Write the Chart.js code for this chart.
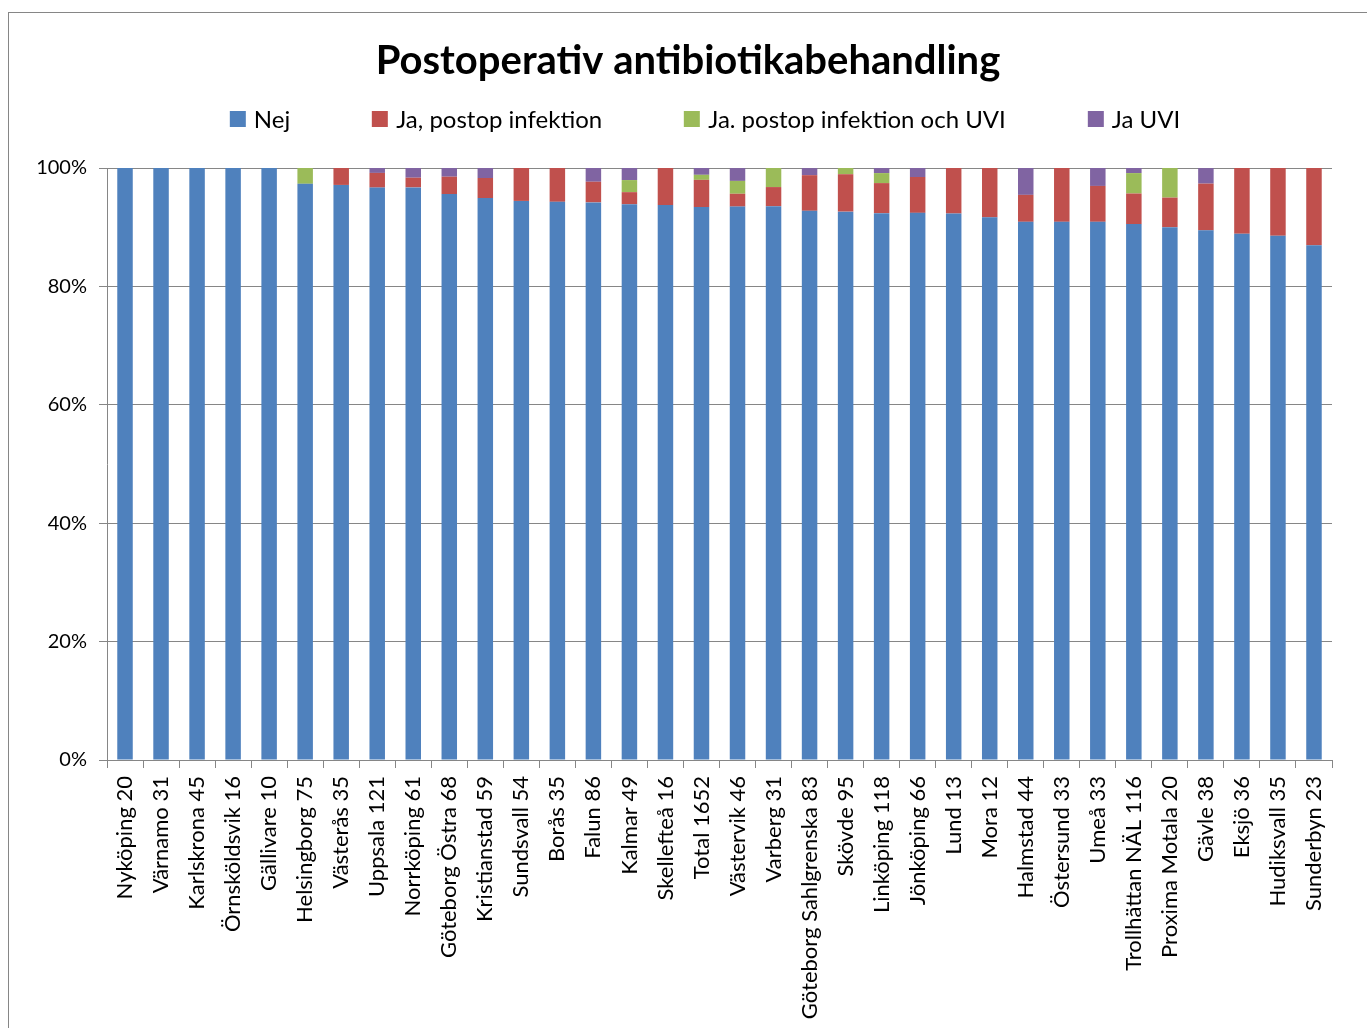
<!DOCTYPE html>
<html lang="sv">
<head>
<meta charset="utf-8">
<title>Postoperativ antibiotikabehandling</title>
<script src="https://cdn.jsdelivr.net/npm/chart.js@4/dist/chart.umd.min.js"></script>
<style>
  html, body { margin: 0; padding: 0; background: #fff; overflow: hidden; }
  #wrap { position: relative; width: 1367px; height: 1028px; }
  #frame { position: absolute; left: 8px; top: 12px; width: 1400px; height: 1100px;
           border: 1px solid #868686; box-sizing: border-box; }
  #chart { position: absolute; left: 0; top: 0; }
  #legend { position: absolute; top: 104px; left: 705px; transform: translateX(-50%);
            white-space: nowrap; font-family: Lato, "Open Sans", sans-serif; font-size: 24px;
            color: #000; line-height: 28px; }
  #legend .item { display: inline-flex; align-items: center; margin-right: 82px; }
  #legend .item:last-child { margin-right: 0; }
  #legend .box { width: 16px; height: 16px; margin-right: 8px; display: inline-block; }
</style>
</head>
<body>
<div id="wrap">
  <div id="frame"></div>
  <canvas id="chart" width="1367" height="1028"></canvas>
  <div id="legend"></div>
</div>
<script>
// Hospitals (with number of operations) and the share of each outcome, in percent
const categories = [
  "Nyköping 20", "Värnamo 31", "Karlskrona 45", "Örnsköldsvik 16", "Gällivare 10",
  "Helsingborg 75", "Västerås 35", "Uppsala 121", "Norrköping 61", "Göteborg Östra 68",
  "Kristianstad 59", "Sundsvall 54", "Borås 35", "Falun 86", "Kalmar 49",
  "Skellefteå 16", "Total 1652", "Västervik 46", "Varberg 31", "Göteborg Sahlgrenska 83",
  "Skövde 95", "Linköping 118", "Jönköping 66", "Lund 13", "Mora 12",
  "Halmstad 44", "Östersund 33", "Umeå 33", "Trollhättan NÄL 116", "Proxima Motala 20",
  "Gävle 38", "Eksjö 36", "Hudiksvall 35", "Sunderbyn 23"
];

const nej = [
  100, 100, 100, 100, 100,
  97.33, 97.14, 96.69, 96.72, 95.59,
  94.92, 94.44, 94.29, 94.19, 93.88,
  93.75, 93.4, 93.48, 93.55, 92.77,
  92.63, 92.37, 92.42, 92.31, 91.67,
  90.91, 90.91, 90.91, 90.52, 90,
  89.47, 88.89, 88.57, 86.96
];

const jaPostopInfektion = [
  0, 0, 0, 0, 0,
  0, 2.86, 2.48, 1.64, 2.94,
  3.39, 5.56, 5.71, 3.49, 2.04,
  6.25, 4.6, 2.17, 3.23, 6.02,
  6.32, 5.08, 6.06, 7.69, 8.33,
  4.55, 9.09, 6.06, 5.17, 5,
  7.89, 11.11, 11.43, 13.04
];

const jaInfektionOchUvi = [
  0, 0, 0, 0, 0,
  2.67, 0, 0, 0, 0,
  0, 0, 0, 0, 2.04,
  0, 0.85, 2.17, 3.23, 0,
  1.05, 1.69, 0, 0, 0,
  0, 0, 0, 3.45, 5,
  0, 0, 0, 0
];

const jaUvi = [
  0, 0, 0, 0, 0,
  0, 0, 0.83, 1.64, 1.47,
  1.69, 0, 0, 2.33, 2.04,
  0, 1.15, 2.17, 0, 1.2,
  0, 0.85, 1.52, 0, 0,
  4.55, 0, 3.03, 0.86, 0,
  2.63, 0, 0, 0
];

const yTicks = [0, 20, 40, 60, 80, 100];

const seriesNames = ["Nej", "Ja, postop infektion", "Ja. postop infektion och UVI", "Ja UVI"];
const seriesColors = ["#4F81BD", "#C0504D", "#9BBB59", "#8064A2"];
const seriesValues = [nej, jaPostopInfektion, jaInfektionOchUvi, jaUvi];

const FONT = "Lato, 'Open Sans', sans-serif";
const GRID = "#868686";

const datasets = seriesNames.map((name, i) => ({
  label: name,
  data: seriesValues[i],
  backgroundColor: seriesColors[i],
  borderWidth: 0,
  barPercentage: 0.43,
  categoryPercentage: 1.0
}));

// Let the y-axis labels use the space to the left of the layout padding
const widenYLabelArea = {
  id: "widenYLabelArea",
  afterLayout(chart) { chart.scales.y.left = 0; }
};

const chart = new Chart(document.getElementById("chart"), {
  type: "bar",
  data: { labels: categories, datasets },
  plugins: [widenYLabelArea],
  options: {
    responsive: false,
    animation: false,
    layout: { padding: { left: 44, right: 35, top: 0, bottom: 0 } },
    plugins: {
      legend: { display: false },
      tooltip: { enabled: false },
      title: {
        display: true,
        text: "Postoperativ antibiotikabehandling",
        color: "#000",
        font: { family: FONT, size: 40, weight: "bold", lineHeight: 1.2 },
        padding: { top: 37, bottom: 83 }
      }
    },
    scales: {
      x: {
        stacked: true,
        grid: {
          offset: true,
          drawOnChartArea: false,
          drawTicks: true,
          tickLength: 8,
          color: GRID
        },
        border: { color: GRID, width: 1 },
        ticks: {
          autoSkip: false,
          maxRotation: 90,
          minRotation: 90,
          padding: 8,
          color: "#000",
          font: { family: FONT, size: 22 }
        },
        afterFit(scale) { scale.height = 268; }
      },
      y: {
        stacked: true,
        min: 0,
        max: 100,
        afterBuildTicks(scale) { scale.ticks = yTicks.map(v => ({ value: v })); },
        grid: { color: GRID, tickLength: 8, drawTicks: true },
        border: { color: GRID, width: 1 },
        ticks: {
          padding: 12,
          color: "#000",
          font: { family: FONT, size: 20 },
          callback: v => v + "%"
        },
        afterFit(scale) { scale.width = 63; }
      }
    }
  }
});

// Legend row built from the chart's own datasets
const legendEl = document.getElementById("legend");
chart.data.datasets.forEach(ds => {
  const item = document.createElement("span");
  item.className = "item";
  const box = document.createElement("span");
  box.className = "box";
  box.style.background = ds.backgroundColor;
  const txt = document.createElement("span");
  txt.textContent = ds.label;
  item.appendChild(box);
  item.appendChild(txt);
  legendEl.appendChild(item);
});
</script>
</body>
</html>
